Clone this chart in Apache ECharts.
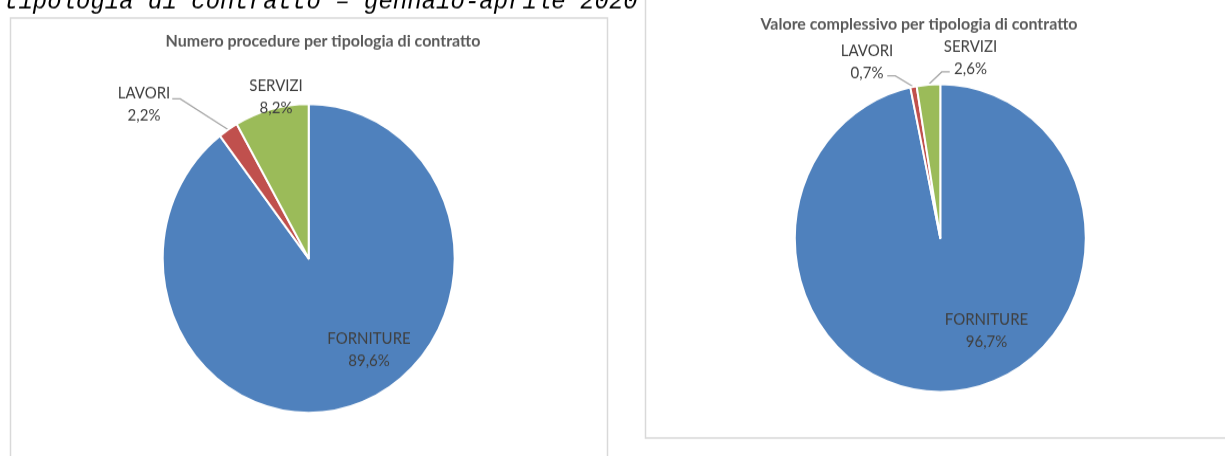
<!DOCTYPE html>
<html>
<head>
<meta charset="utf-8">
<script src="https://cdn.jsdelivr.net/npm/echarts@6/dist/echarts.min.js"></script>
<style>
  html { overflow: hidden; }
  body { margin: 0; padding: 0; background: #fff; width: 1225px; height: 456px; }
  /* the original pictures are slightly stretched vertically */
  #chart { width: 1225px; height: 431px; transform: scaleY(1.058); transform-origin: 0 0; }
</style>
</head>
<body>
<div id="chart"></div>
<script>
// data
const categories = ["FORNITURE", "LAVORI", "SERVIZI"];
const proceduresShare = [89.6, 2.2, 8.2]; // Numero procedure (%)
const valueShare = [96.7, 0.7, 2.6];      // Valore complessivo (%)
const caption = "tipologia di contratto \u2013 gennaio-aprile 2020";
const leftTitle = "Numero procedure per tipologia di contratto";
const rightTitle = "Valore complessivo per tipologia di contratto";

const colors = ["#4F81BD", "#C0504D", "#9BBB59"];

// label placement (chart px, centre of label block)
const labelPos = [
  [[369, 331], [144, 98.5], [276, 92]],
  [[986.5, 313], [867, 59], [970.5, 54.5]],
];
// where the leader line leaves the label: side (1 right edge, -1 left edge), gap, height fraction
const lineAnchor = [
  [null, { side: 1, gap: 2, f: 0.38 }, null],
  [null, { side: 1, gap: -6, f: 0.8 }, { side: -1, gap: -6, f: 0.82 }],
];

var dom = document.getElementById("chart");
var myChart = echarts.init(dom, null, { renderer: "canvas" });

const fmt = (p) => p.name + "\n" + p.value.toFixed(1).replace(".", ",") + "%";

function layoutFor(s) {
  return function (p) {
    const pos = labelPos[s][p.dataIndex];
    const out = { x: pos[0], y: pos[1], align: "center", verticalAlign: "middle" };
    const ln = lineAnchor[s][p.dataIndex];
    if (ln && p.labelLinePoints) {
      const w = p.labelRect.width;
      const h = p.labelRect.height;
      const x2 = pos[0] + ln.side * (w / 2 + ln.gap);
      const y2 = pos[1] - h / 2 + h * ln.f;
      const p0 = p.labelLinePoints[0];
      out.labelLinePoints = [p0, [x2 + ln.side * 8, y2], [x2, y2]];
    }
    return out;
  };
}

function makePie(s, values, center, radius, hideLines) {
  return {
    type: "pie",
    center: center,
    radius: radius,
    startAngle: 90,
    clockwise: true,
    avoidLabelOverlap: false,
    silent: true,
    itemStyle: { borderColor: "#fff", borderWidth: 2 },
    label: {
      show: true,
      formatter: fmt,
      color: "#404040",
      fontFamily: "Lato",
      fontSize: 15,
      lineHeight: 21,
      align: "center",
    },
    labelLine: { show: true, length: 10, length2: 8, lineStyle: { color: "#a6a6a6", width: 1.3 } },
    labelLayout: layoutFor(s),
    data: categories.map((name, i) => ({
      name: name,
      value: values[i],
      itemStyle: { color: colors[i] },
      label: i === 0 ? { position: "inside" } : { position: "outside" },
      labelLine: { show: i !== 0 && hideLines.indexOf(i) < 0 },
    })),
  };
}

var option = {
  animation: false,
  backgroundColor: "#fff",
  graphic: [
    {
      type: "rect",
      silent: true,
      shape: { x: 10.5, y: 17, width: 597, height: 500 },
      style: { fill: "none", stroke: "#d9d9d9", lineWidth: 1.5 },
    },
    {
      type: "rect",
      silent: true,
      shape: { x: 645.5, y: -10, width: 700, height: 424 },
      style: { fill: "none", stroke: "#d9d9d9", lineWidth: 1.5 },
    },
    {
      type: "text",
      silent: true,
      x: 4,
      y: 2,
      style: {
        text: caption,
        fontFamily: "Liberation Mono",
        fontStyle: "italic",
        fontSize: 24,
        fill: "#000",
        align: "left",
        verticalAlign: "middle",
      },
    },
    {
      type: "text",
      silent: true,
      x: 323,
      y: 39,
      style: {
        text: leftTitle,
        fontFamily: "Lato",
        fontWeight: "bold",
        fontSize: 16,
        fill: "#595959",
        align: "center",
        verticalAlign: "middle",
      },
    },
    {
      type: "text",
      silent: true,
      x: 919,
      y: 22.7,
      style: {
        text: rightTitle,
        fontFamily: "Lato",
        fontWeight: "bold",
        fontSize: 16,
        fill: "#595959",
        align: "center",
        verticalAlign: "middle",
      },
    },
  ],
  series: [
    makePie(0, proceduresShare, [308.7, 244.3], 146, [2]),
    makePie(1, valueShare, [940.3, 225], 145.5, []),
  ],
};

if (option && typeof option === "object") {
  myChart.setOption(option);
}
</script>
</body>
</html>
